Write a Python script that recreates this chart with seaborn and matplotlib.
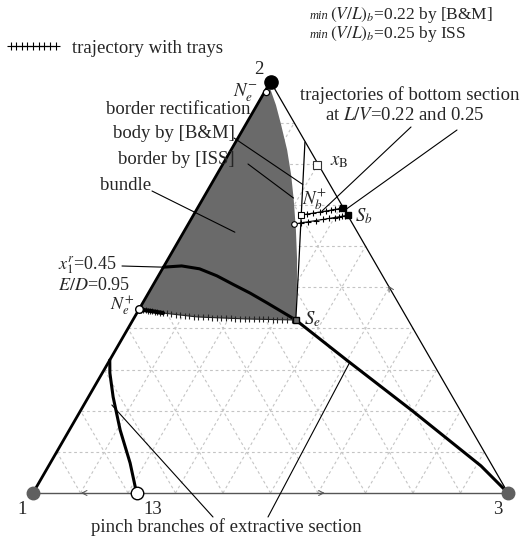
import numpy as np
import matplotlib
matplotlib.use("Agg")
import matplotlib.pyplot as plt
from matplotlib.lines import Line2D
import seaborn as sns

# compositions: x2 = fraction of 2 (top), x3 = fraction of 3 (right)
iss_x2 = [0.984, 0.943, 0.899, 0.834, 0.773, 0.712, 0.639, 0.566, 0.493, 0.4205]
iss_x3 = [0.007, 0.040, 0.072, 0.118, 0.157, 0.193, 0.234, 0.273, 0.309, 0.343]

bm_x2 = [0.853, 0.761, 0.671, 0.566, 0.4205]
bm_x3 = [0.146, 0.188, 0.229, 0.277, 0.343]

# rectifying trajectory with trays, N_e+ -> S_e
tray_x3 = [0.000, 0.005, 0.010, 0.015, 0.020, 0.025, 0.030, 0.036, 0.042, 0.048,
           0.055, 0.064, 0.074, 0.084, 0.094, 0.104, 0.114, 0.124, 0.134, 0.144,
           0.154, 0.164, 0.174, 0.184, 0.194, 0.204, 0.214, 0.224, 0.234, 0.244,
           0.254, 0.264, 0.274, 0.284, 0.294, 0.304, 0.314, 0.324, 0.334, 0.343]
tray_x2 = [0.4470, 0.4460, 0.4450, 0.4440, 0.4435, 0.4427, 0.4418, 0.4408, 0.4397, 0.4387,
           0.4375, 0.4364, 0.4351, 0.4339, 0.4326, 0.4314, 0.4301, 0.4289, 0.4279, 0.4274,
           0.4269, 0.4265, 0.4260, 0.4255, 0.4251, 0.4246, 0.4242, 0.4237, 0.4232, 0.4229,
           0.4226, 0.4224, 0.4221, 0.4219, 0.4217, 0.4214, 0.4212, 0.4210, 0.4207, 0.4205]

# x1r = 0.45 curve through S_e to vertex 3
x1r_x2 = [0.549, 0.552, 0.545, 0.528, 0.507, 0.486, 0.462, 0.440, 0.4205, 0.323, 0.199, 0.066, 0.0]
x1r_x3 = [0.0, 0.037, 0.078, 0.123, 0.168, 0.214, 0.262, 0.305, 0.343, 0.499, 0.700, 0.910, 1.0]

# pinch branch from 13
pinch_x2 = [0.0, 0.0729, 0.153, 0.2334, 0.2917, 0.3233]
pinch_x3 = [0.218, 0.168, 0.107, 0.052, 0.016, 0.0]

# bottom section trajectories (L/V = 0.22 and 0.25)
bot1_x3 = [0.226, 0.238, 0.250, 0.262, 0.274, 0.284, 0.292, 0.298, 0.302, 0.306]
bot1_x2 = [0.6757, 0.678, 0.6805, 0.683, 0.6855, 0.6877, 0.6895, 0.6908, 0.6918, 0.6928]
bot2_x3 = [0.2225, 0.236, 0.250, 0.264, 0.278, 0.290, 0.300, 0.308, 0.314, 0.319, 0.325]
bot2_x2 = [0.6539, 0.6566, 0.6594, 0.6622, 0.665, 0.6675, 0.6697, 0.6713, 0.6727, 0.6738, 0.6757]

xB = (0.797, 0.199)
Ne_minus = (0.975, 0.003)
Ne_plus = (0.447, 0.0)
Se = (0.4205, 0.343)
pt13 = (0.0, 0.218)


def tern(x2, x3):
    x2 = np.asarray(x2, float)
    x3 = np.asarray(x3, float)
    return x3 + x2 / 2, x2 * np.sqrt(3) / 2


def P(u, v):
    # picture pixel position -> axes data
    return (u - 33) / 475, (493 - v) / 475


sns.set_style("white")
plt.rcParams['font.family'] = ['Liberation Serif', 'DejaVu Serif']
plt.rcParams['mathtext.fontset'] = 'stix'

fig = plt.figure(figsize=(5.24, 5.37), dpi=100)
ax = fig.add_axes([0, 0, 1, 1])
ax.set_xlim(-33 / 475, 491 / 475)
ax.set_ylim(-44 / 475, 493 / 475)
ax.axis('off')

# dashed grid
for t in np.arange(1, 10) / 10:
    for a, b in [((t, 0), (t, 1 - t)), ((0, t), (1 - t, t)), ((0, 1 - t), (1 - t, 0))]:
        xs, ys = tern([a[0], b[0]], [a[1], b[1]])
        ax.plot(xs, ys, color='#c4c4c4', lw=0.8, ls=(0, (2.5, 2.5)), zorder=1)

# bundle
poly_x2 = [0.984] + tray_x2 + iss_x2[::-1]
poly_x3 = [0.0] + tray_x3 + iss_x3[::-1]
px_, py_ = tern(poly_x2, poly_x3)
ax.fill(px_, py_, color='#6a6a6a', lw=0, zorder=2)

# triangle edges
xs, ys = tern([0, 0], [0, 1])
ax.plot(xs, ys, color='#555555', lw=1.0, zorder=3)
xs, ys = tern([1, 0], [0, 1])
ax.plot(xs, ys, color='k', lw=0.9, zorder=3)
xs, ys = tern([0, 1], [0, 0])
ax.plot(xs, ys, color='k', lw=2.0, zorder=3)

# edge arrows
for (a2, a3), (b2, b3) in [((0, 0.115), (0, 0.095)), ((0, 0.600), (0, 0.620)),
                           ((0.49, 0.51), (0.51, 0.49))]:
    ax.annotate('', xy=tern(b2, b3), xytext=tern(a2, a3),
                arrowprops=dict(arrowstyle='->', lw=0.7, color='#555555', mutation_scale=9),
                zorder=3)

# B&M border
xs, ys = tern(bm_x2, bm_x3)
sns.lineplot(x=xs, y=ys, sort=False, estimator=None, color='k', lw=0.9, ax=ax, zorder=4)

# x1r curve and pinch branch
xs, ys = tern(x1r_x2, x1r_x3)
sns.lineplot(x=xs, y=ys, sort=False, estimator=None, color='k', lw=2.2, ax=ax, zorder=4)
xs, ys = tern(pinch_x2, pinch_x3)
sns.lineplot(x=xs, y=ys, sort=False, estimator=None, color='k', lw=2.2, ax=ax, zorder=4)

# trajectory with trays
xs, ys = tern(tray_x2, tray_x3)
ax.plot(xs, ys, color='#222222', lw=0.8, zorder=5)
ax.plot(xs, ys, ls='none', marker='|', ms=5, mew=0.8, color='#222222', zorder=5)
ax.plot(xs[:11], ys[:11], color='k', lw=3.0, zorder=5)

for bx2, bx3 in [(bot1_x2, bot1_x3), (bot2_x2, bot2_x3)]:
    xs, ys = tern(bx2, bx3)
    ax.plot(xs, ys, color='k', lw=0.8, marker='+', ms=5, mew=0.8, zorder=5)
    ax.plot(xs[-1], ys[-1], marker='s', ms=4.5, color='k', zorder=6)
xs, ys = tern(bot1_x2[0], bot1_x3[0])
ax.plot(xs, ys, marker='s', ms=4, mfc='white', mec='k', mew=0.8, zorder=6)
xs, ys = tern(bot2_x2[0], bot2_x3[0])
ax.plot(xs, ys, marker='o', ms=4, mfc='white', mec='k', mew=0.8, zorder=6)

# special points
for pt, kw in [(xB, dict(marker='s', ms=6, mfc='white', mec='#333333', mew=0.8)),
               (Ne_minus, dict(marker='o', ms=4.5, mfc='white', mec='k', mew=0.9)),
               (Ne_plus, dict(marker='o', ms=5.5, mfc='white', mec='k', mew=1.0)),
               (Se, dict(marker='s', ms=5, mfc='#6a6a6a', mec='k', mew=1.0)),
               (pt13, dict(marker='o', ms=9, mfc='white', mec='k', mew=1.0)),
               ((0, 0), dict(marker='o', ms=9, color='#5f5f5f')),
               ((0, 1), dict(marker='o', ms=9, color='#5f5f5f')),
               ((1, 0), dict(marker='o', ms=9.5, color='k'))]:
    xs, ys = tern(pt[0], pt[1])
    ax.plot(xs, ys, zorder=7, **kw)

# labels
fs = 13.5
tkw = dict(fontsize=fs, va='center', zorder=8)
ax.text(*P(310, 19), 'min', fontsize=9, style='italic', va='baseline')
ax.text(*P(330, 19), r'$(V/L)_b$=0.22 by [B&M]', fontsize=12.5, va='baseline')
ax.text(*P(310, 38), 'min', fontsize=9, style='italic', va='baseline')
ax.text(*P(330, 38), r'$(V/L)_b$=0.25 by ISS', fontsize=12.5, va='baseline')

handle = Line2D([], [], color='k', lw=0.8, marker='+', ms=6, mew=0.8)
ax.legend([handle], ['trajectory with trays'], loc='center left', bbox_to_anchor=P(-12, 48),
          bbox_transform=ax.transData, frameon=False, numpoints=9, handlelength=3.0,
          handletextpad=0.6, prop={'size': fs})

ax.text(*P(259, 70), '2', ha='center', **tkw)
ax.text(*P(22, 510), '1', ha='center', **tkw)
ax.text(*P(153, 510), '13', ha='center', **tkw)
ax.text(*P(498, 510), '3', ha='center', **tkw)
ax.text(*P(246, 93), r'$N_e^{-}$', ha='center', **tkw)
ax.text(*P(122, 306), r'$N_e^{+}$', ha='center', fontsize=13, va='center')
ax.text(*P(304, 319), r'$S_e$', ha='left', **tkw)
ax.text(*P(355, 216), r'$S_b$', ha='left', **tkw)
ax.text(*P(302, 199), r'$N_b^{+}$', ha='left', **tkw)
ax.text(*P(330, 162), r'$x_{\rm B}$', ha='left', **tkw)
ax.text(*P(300, 95), 'trajectories of bottom section', ha='left', **tkw)
ax.text(*P(325, 116), r'at $L/V$=0.22 and 0.25', ha='left', **tkw)
ax.text(*P(178, 110), 'border rectification', ha='center', **tkw)
ax.text(*P(174, 134), 'body by [B&M]', ha='center', **tkw)
ax.text(*P(176, 160), 'border by [ISS]', ha='center', **tkw)
ax.text(*P(126, 186), 'bundle', ha='center', **tkw)
ax.text(*P(58, 265), r'$x_1^r$=0.45', ha='left', fontsize=13, va='center')
ax.text(*P(58, 285), r'$E/D$=0.95', ha='left', fontsize=13, va='center')
ax.text(*P(226, 527), 'pinch branches of extractive section', ha='center', **tkw)

# leader lines
lkw = dict(arrowprops=dict(arrowstyle='-', lw=0.8, color='k', shrinkA=0, shrinkB=0))
for target, start in [(tern(0.549, 0.0), P(122, 266)),
                      (tern(0.634, 0.108), P(152, 191)),
                      (tern(0.717, 0.190), P(248, 164)),
                      (tern(0.750, 0.193), P(234, 138)),
                      (tern(0.6855, 0.2657), P(411, 127)),
                      (tern(0.688, 0.313), P(457, 130)),
                      (tern(0.214, 0.059), P(213, 517)),
                      (tern(0.318, 0.508), P(268, 517))]:
    ax.annotate('', xy=target, xytext=start, zorder=4, **lkw)

fig.savefig('out.png', dpi=100)
